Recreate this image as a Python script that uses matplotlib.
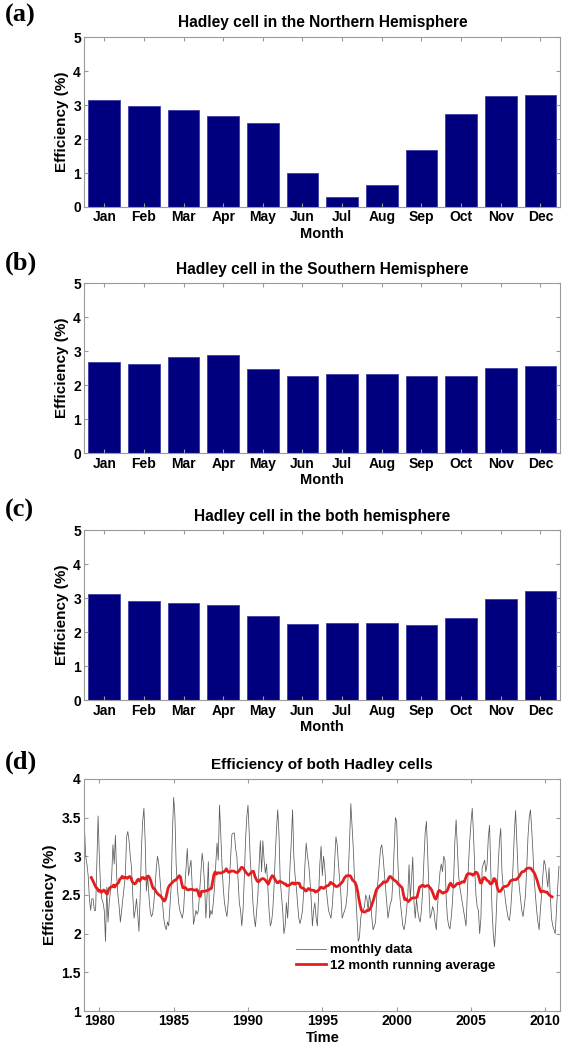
import numpy as np
import matplotlib
matplotlib.use("Agg")
import matplotlib.pyplot as plt

plt.rcParams['font.family'] = ['Liberation Sans', 'DejaVu Sans']
plt.rcParams['font.weight'] = 'bold'

months = ['Jan', 'Feb', 'Mar', 'Apr', 'May', 'Jun', 'Jul', 'Aug', 'Sep', 'Oct', 'Nov', 'Dec']

# monthly mean efficiency (%)
eff_north = [3.16, 2.98, 2.87, 2.69, 2.48, 0.99, 0.30, 0.64, 1.68, 2.73, 3.28, 3.31]
eff_south = [2.67, 2.62, 2.84, 2.88, 2.48, 2.28, 2.32, 2.32, 2.26, 2.28, 2.50, 2.56]
eff_both = [3.11, 2.93, 2.87, 2.80, 2.48, 2.23, 2.28, 2.27, 2.22, 2.42, 2.99, 3.20]

first_year = 1979
# monthly series of both cells, one row per year (Jan..Dec)
monthly_eff = [
    [3.38, 3.00, 2.90, 2.75, 2.45, 2.30, 2.45, 2.45, 2.30, 2.30, 2.90, 3.52],  # 1979
    [3.00, 2.60, 2.45, 2.40, 2.30, 1.90, 2.60, 2.15, 2.40, 2.55, 2.75, 3.15],  # 1980
    [2.90, 3.27, 2.75, 2.50, 2.35, 2.15, 2.30, 2.45, 2.60, 2.75, 3.25, 3.32],  # 1981
    [3.20, 3.00, 2.85, 2.50, 2.20, 2.30, 2.45, 2.25, 2.03, 2.50, 3.10, 3.45],  # 1982
    [3.62, 3.20, 2.55, 2.75, 2.50, 2.30, 2.22, 2.25, 2.40, 2.60, 2.85, 3.00],  # 1983
    [2.90, 2.70, 2.50, 2.40, 2.20, 2.10, 2.05, 2.15, 2.10, 2.35, 2.60, 3.30],  # 1984
    [3.76, 3.53, 2.90, 2.60, 2.40, 2.30, 2.25, 2.20, 2.30, 2.60, 2.85, 3.10],  # 1985
    [2.75, 2.85, 2.95, 2.60, 2.12, 2.20, 2.30, 2.25, 2.30, 2.55, 2.80, 3.04],  # 1986
    [2.90, 2.60, 2.20, 2.50, 2.93, 2.20, 2.30, 2.25, 2.40, 2.60, 2.90, 3.17],  # 1987
    [2.95, 3.66, 3.30, 2.90, 2.60, 2.40, 2.30, 2.22, 2.40, 2.70, 3.00, 3.28],  # 1988
    [3.30, 3.30, 3.10, 3.00, 2.70, 2.40, 2.30, 2.10, 2.30, 2.70, 3.20, 3.50],  # 1989
    [3.66, 3.30, 2.90, 2.70, 2.40, 2.20, 2.09, 2.30, 2.50, 2.90, 3.20, 2.80],  # 1990
    [3.20, 2.95, 2.78, 2.90, 2.60, 2.30, 2.10, 2.15, 2.30, 2.60, 3.00, 3.35],  # 1991
    [3.60, 3.30, 2.70, 2.50, 2.30, 2.00, 2.10, 2.40, 2.20, 2.50, 2.90, 3.20],  # 1992
    [3.60, 3.00, 2.75, 2.60, 2.40, 2.20, 2.13, 2.20, 2.30, 2.55, 2.90, 3.17],  # 1993
    [3.00, 2.90, 2.70, 2.45, 2.10, 2.30, 2.40, 2.20, 2.10, 2.50, 2.90, 3.13],  # 1994
    [2.75, 3.00, 2.85, 2.60, 2.45, 2.30, 2.25, 2.20, 2.35, 2.60, 2.95, 3.25],  # 1995
    [3.15, 2.90, 2.70, 2.50, 2.20, 2.25, 2.30, 2.35, 2.50, 2.80, 3.20, 3.68],  # 1996
    [3.40, 3.10, 2.70, 2.50, 2.20, 1.90, 1.95, 2.20, 2.30, 2.30, 2.35, 2.50],  # 1997
    [2.45, 2.30, 2.50, 2.40, 2.20, 2.05, 2.10, 2.15, 2.50, 2.70, 2.90, 3.10],  # 1998
    [3.15, 3.00, 2.80, 2.60, 2.40, 2.20, 2.30, 2.40, 2.43, 2.70, 3.10, 3.50],  # 1999
    [3.45, 2.90, 2.60, 2.40, 2.25, 2.10, 2.05, 2.15, 2.30, 2.50, 2.89, 2.45],  # 2000
    [2.70, 2.99, 2.40, 2.20, 2.45, 2.30, 2.20, 2.15, 2.30, 2.55, 2.95, 3.30],  # 2001
    [3.45, 3.05, 2.60, 2.20, 2.25, 2.35, 2.30, 2.15, 2.05, 2.35, 2.60, 2.80],  # 2002
    [2.90, 2.80, 3.00, 2.95, 2.45, 2.20, 2.10, 2.06, 2.20, 2.40, 2.70, 3.20],  # 2003
    [3.47, 3.10, 2.75, 2.60, 2.50, 2.40, 2.30, 2.20, 2.10, 2.50, 2.90, 3.20],  # 2004
    [3.43, 3.62, 3.30, 2.85, 2.50, 2.35, 2.30, 2.00, 2.20, 2.85, 2.90, 2.95],  # 2005
    [2.80, 2.90, 3.25, 3.40, 2.80, 2.30, 2.00, 1.83, 2.10, 2.50, 2.90, 3.20],  # 2006
    [3.36, 2.80, 2.60, 2.55, 2.40, 2.30, 2.20, 2.17, 2.30, 2.55, 2.90, 3.30],  # 2007
    [3.59, 3.20, 2.80, 2.60, 2.45, 2.30, 2.22, 2.35, 2.50, 2.85, 3.25, 3.50],  # 2008
    [3.60, 3.35, 3.05, 2.70, 2.50, 2.30, 2.15, 2.05, 2.30, 2.50, 2.75, 2.95],  # 2009
    [2.89, 2.75, 2.60, 2.85, 2.50, 2.20, 2.10, 2.05, 2.00, 2.30, 2.60, 2.87],  # 2010
]

bar_color = '#00007f'
edge_color = '#3c3ca8'
spine_color = '#9a9a9a'

fig = plt.figure(figsize=(5.63, 10.48), dpi=100)


def style_axes(ax):
    for s in ax.spines.values():
        s.set_color(spine_color)
        s.set_linewidth(0.8)
    ax.tick_params(direction='in', top=True, right=True, length=3,
                   color=spine_color, labelsize=10, pad=2.5)
    for lab in ax.get_xticklabels() + ax.get_yticklabels():
        lab.set_fontweight('bold')


def panel_letter(letter, y):
    fig.text(0.008, y, letter, fontsize=19, fontweight='bold',
             family=['Liberation Serif', 'DejaVu Serif'], va='center')


def bar_panel(rect, values, title, letter, letter_y):
    ax = fig.add_axes(rect)
    x = np.arange(1, 13)
    ax.bar(x, values, width=0.8, color=bar_color, edgecolor=edge_color, linewidth=0.6)
    ax.set_xlim(0.5, 12.5)
    ax.set_ylim(0, 5)
    ax.set_xticks(x)
    ax.set_xticklabels(months)
    ax.set_yticks(range(0, 6))
    ax.set_title(title, fontsize=11.2, fontweight='bold', pad=7)
    ax.set_xlabel('Month', fontsize=10.5, fontweight='bold', labelpad=2)
    ax.set_ylabel('Efficiency (%)', fontsize=11, fontweight='bold', labelpad=3)
    style_axes(ax)
    panel_letter(letter, letter_y)
    return ax


L, W = 0.150, 0.845
bar_panel([L, 0.8025, W, 0.162], eff_north, 'Hadley cell in the Northern Hemisphere', '(a)', 0.985)
bar_panel([L, 0.5677, W, 0.162], eff_south, 'Hadley cell in the Southern Hemisphere', '(b)', 0.749)
bar_panel([L, 0.3320, W, 0.162], eff_both, 'Hadley cell in the both hemisphere', '(c)', 0.513)

# (d) time series with 12 month running mean
series = np.array(monthly_eff).ravel()
t = first_year + np.arange(series.size) / 12.0
running = np.convolve(series, np.ones(12) / 12.0, mode='valid')
t_run = t[5:5 + running.size] + 0.5 / 12.0

ax = fig.add_axes([L, 0.0353, W, 0.2215])
ax.plot(t, series, color='#5a5a5a', linewidth=0.55, label='monthly data')
ax.plot(t_run, running, color='#e41e1e', linewidth=2.0, label='12 month running average')
ax.set_xlim(1979, 2011)
ax.set_ylim(1, 4)
ax.set_xticks(range(1980, 2011, 5))
ax.set_yticks(np.arange(1, 4.01, 0.5))
ax.set_yticklabels(['1', '1.5', '2', '2.5', '3', '3.5', '4'])
ax.set_title('Efficiency of both Hadley cells', fontsize=11, fontweight='bold', pad=7)
ax.set_xlabel('Time', fontsize=10.5, fontweight='bold', labelpad=2)
ax.set_ylabel('Efficiency (%)', fontsize=11, fontweight='bold', labelpad=3)
style_axes(ax)
ax.legend(loc='upper left', bbox_to_anchor=(0.42, 0.34), frameon=False,
          handlelength=2.3, handletextpad=0.3, labelspacing=0.25,
          prop={'weight': 'bold', 'size': 9.5})
panel_letter('(d)', 0.273)

fig.savefig('out.png', dpi=100)
